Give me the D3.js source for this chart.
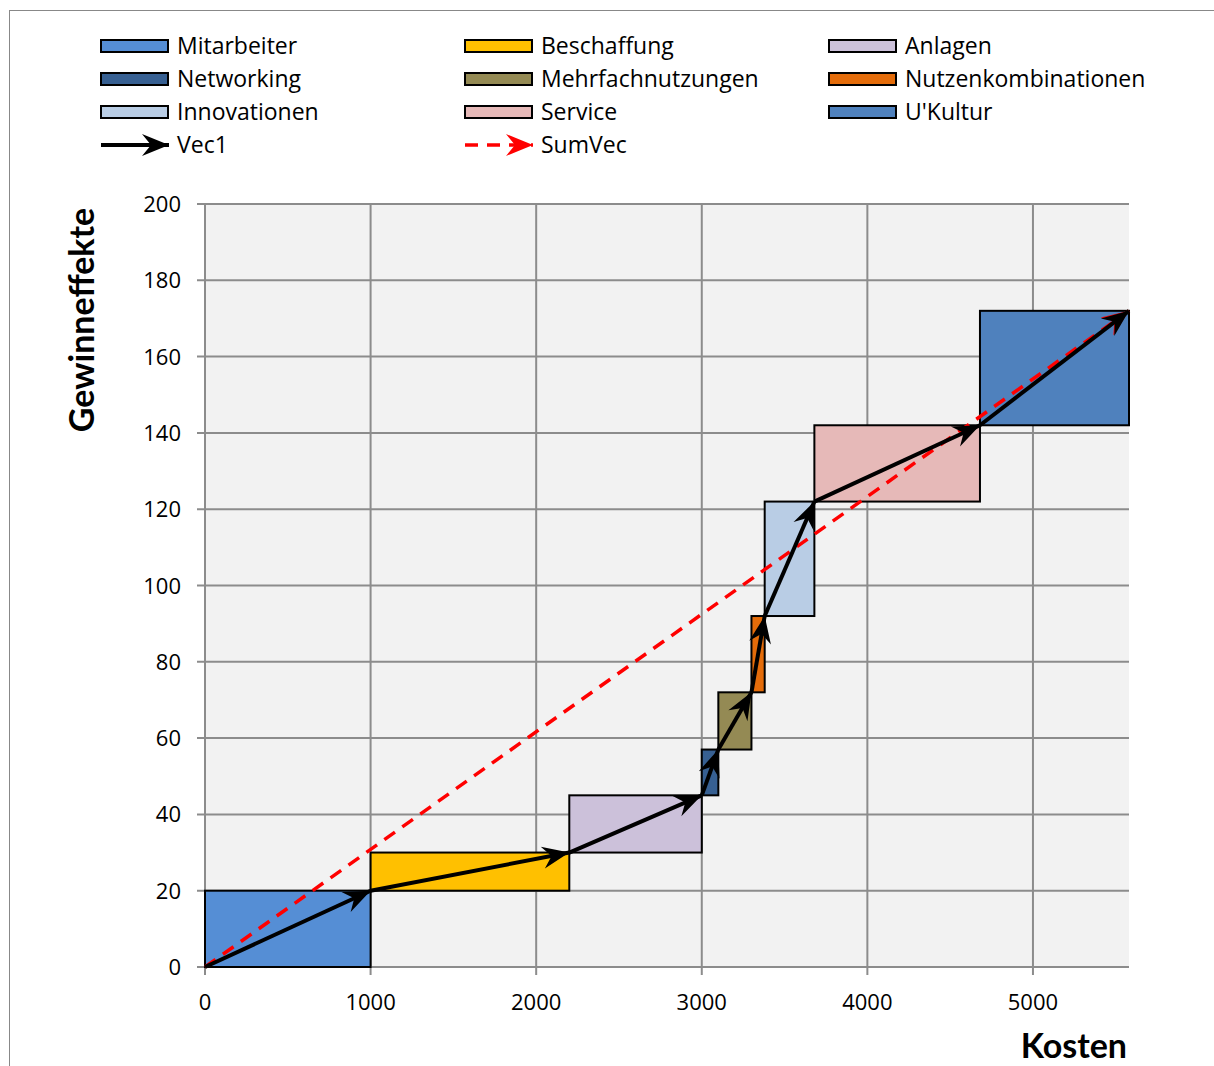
<!DOCTYPE html>
<html><head><meta charset="utf-8">
<script src="https://cdn.jsdelivr.net/npm/d3@7"></script>
<style>body{margin:0;background:#fff}</style>
</head><body>
<svg id="c" width="1214" height="1066"></svg>
<script>
const categories = ["Mitarbeiter","Beschaffung","Anlagen","Networking","Mehrfachnutzungen","Nutzenkombinationen","Innovationen","Service","U'Kultur"];
const costs = [1000,1200,800,100,200,80,300,1000,900];
const gains = [20,10,15,12,15,20,30,20,30];
const colors = ["#558ed5","#ffc000","#ccc1da","#376092","#948a54","#e46c0a","#b9cde5","#e6b9b8","#4f81bd"];
const xTicks = [0,1000,2000,3000,4000,5000];
const yTicks = [0,20,40,60,80,100,120,140,160,180,200];
const lineSeries = ["Vec1","SumVec"];

const font = "'Open Sans', sans-serif";
const bfont = "Lato, sans-serif";
const svg = d3.select("#c");
svg.append("rect").attr("x",9.5).attr("y",10.5).attr("width",1220).attr("height",1070)
  .attr("fill","#fff").attr("stroke","#888").attr("stroke-width",1);

const L=205,R=1129,T=204,B=967;
const x0=[],y0=[];let cx=0,cy=0;
costs.forEach((c,i)=>{x0.push(cx);y0.push(cy);cx+=c;cy+=gains[i];});
const xMax=cx;
const x=d3.scaleLinear().domain([0,xMax]).range([L,R]);
const y=d3.scaleLinear().domain([0,200]).range([B,T]);

const defs=svg.append("defs");
function marker(id,col){
  defs.append("marker").attr("id",id).attr("viewBox","-28 -13 30 26")
    .attr("refX",0).attr("refY",0).attr("markerWidth",30).attr("markerHeight",26)
    .attr("markerUnits","userSpaceOnUse").attr("orient","auto")
    .append("path").attr("d","M0,0 L-27,-11 L-18,0 L-27,11 Z").attr("fill",col);
}
marker("ab","#000");marker("ar","#ff0000");

svg.append("rect").attr("x",L).attr("y",T).attr("width",R-L).attr("height",B-T).attr("fill","#f2f2f2");

const g=svg.append("g");
g.selectAll(".gx").data(xTicks).join("line").attr("x1",d=>x(d)).attr("x2",d=>x(d))
  .attr("y1",T).attr("y2",B+8).attr("stroke","#8c8c8c").attr("stroke-width",2);
g.selectAll(".gy").data(yTicks).join("line").attr("x1",L-8).attr("x2",R)
  .attr("y1",d=>y(d)).attr("y2",d=>y(d)).attr("stroke","#8c8c8c").attr("stroke-width",2);

svg.selectAll(".xl").data(xTicks).join("text").attr("x",d=>x(d)).attr("y",1010)
  .attr("text-anchor","middle").attr("font-family",font).attr("font-size",22).text(d=>d);
svg.selectAll(".yl").data(yTicks).join("text").attr("x",181).attr("y",d=>y(d)+8)
  .attr("text-anchor","end").attr("font-family",font).attr("font-size",22).text(d=>d);

svg.selectAll(".box").data(categories).join("rect")
  .attr("x",(d,i)=>x(x0[i])).attr("y",(d,i)=>y(y0[i]+gains[i]))
  .attr("width",(d,i)=>x(x0[i]+costs[i])-x(x0[i]))
  .attr("height",(d,i)=>y(y0[i])-y(y0[i]+gains[i]))
  .attr("fill",(d,i)=>colors[i]).attr("stroke","#000").attr("stroke-width",2);

svg.append("line").attr("x1",x(0)).attr("y1",y(0)).attr("x2",x(xMax)).attr("y2",y(cy))
  .attr("stroke","#ff0000").attr("stroke-width",3.5).attr("stroke-dasharray","13,9")
  .attr("marker-end","url(#ar)");
svg.selectAll(".vec").data(categories).join("line")
  .attr("x1",(d,i)=>x(x0[i])).attr("y1",(d,i)=>y(y0[i]))
  .attr("x2",(d,i)=>x(x0[i]+costs[i])).attr("y2",(d,i)=>y(y0[i]+gains[i]))
  .attr("stroke","#000").attr("stroke-width",4).attr("marker-end","url(#ab)");

svg.append("text").attr("transform","translate(94,320) rotate(-90)").attr("text-anchor","middle")
  .attr("font-family",bfont).attr("font-weight","bold").attr("font-size",34).text("Gewinneffekte");
svg.append("text").attr("x",1127).attr("y",1058).attr("text-anchor","end")
  .attr("font-family",bfont).attr("font-weight","bold").attr("font-size",34).text("Kosten");

const colX=[101,465,829], rowY=[46,79,112,145];
categories.forEach((c,i)=>{
  const lx=colX[i%3], ly=rowY[Math.floor(i/3)];
  svg.append("rect").attr("x",lx).attr("y",ly-6).attr("width",67).attr("height",12)
    .attr("fill",colors[i]).attr("stroke","#000").attr("stroke-width",2);
  svg.append("text").attr("x",lx+76).attr("y",ly+8).attr("font-family",font).attr("font-size",23).text(c);
});
lineSeries.forEach((s,i)=>{
  const lx=colX[i], ly=rowY[3];
  const ln=svg.append("line").attr("x1",lx).attr("x2",lx+68).attr("y1",ly).attr("y2",ly)
    .attr("stroke",i?"#ff0000":"#000").attr("stroke-width",i?3.5:4)
    .attr("marker-end",i?"url(#ar)":"url(#ab)");
  if(i) ln.attr("stroke-dasharray","13,9");
  svg.append("text").attr("x",lx+76).attr("y",ly+8).attr("font-family",font).attr("font-size",23).text(s);
});
</script>
</body></html>
